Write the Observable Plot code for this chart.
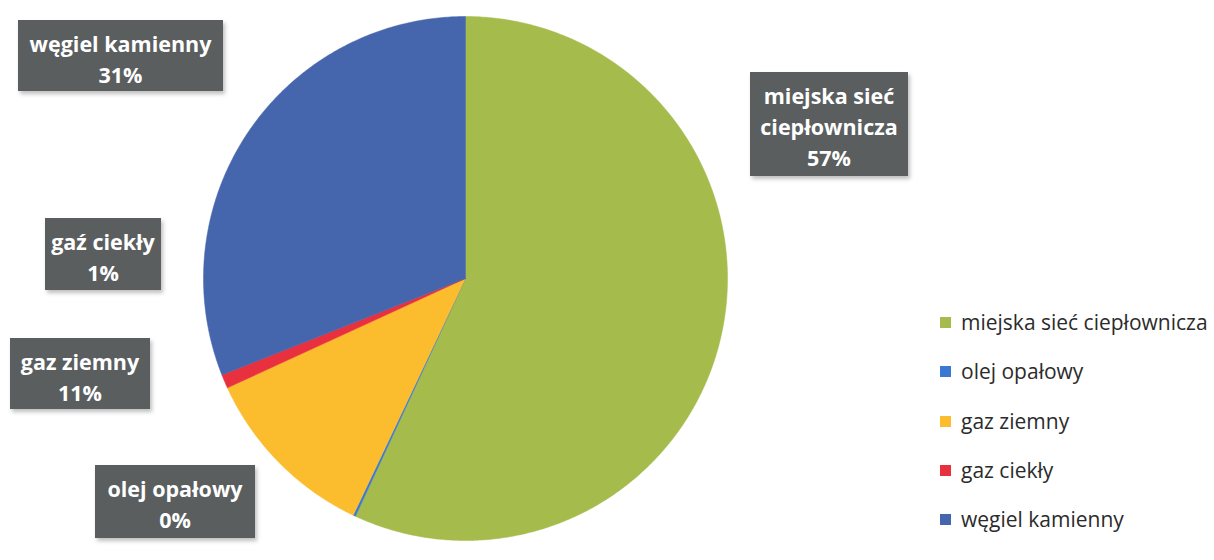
<!DOCTYPE html>
<html>
<head>
<meta charset="utf-8">
<script src="https://cdn.jsdelivr.net/npm/d3@7"></script>
<script src="https://cdn.jsdelivr.net/npm/@observablehq/plot@0.6"></script>
<style>
  html, body { margin: 0; padding: 0; background: #ffffff; }
  #wrap { position: relative; width: 1214px; height: 560px; overflow: hidden; }
  .lbl { position: absolute; background: #5a5e5f; color: #ffffff; font-family: "Open Sans", Lato, sans-serif; font-weight: 700; font-size: 21.5px; line-height: 31px; text-align: center; box-shadow: 2px 3px 4px rgba(0,0,0,0.25); box-sizing: border-box; padding-top: 8px; white-space: pre; }
  .leg { position: absolute; font-family: "Open Sans", Lato, sans-serif; font-size: 21px; color: #2b2b2b; white-space: nowrap; line-height: 28px; }
  .leg span.sw { display: inline-block; width: 11px; height: 11px; margin-right: 10px; vertical-align: 2px; }
</style>
</head>
<body>
<div id="wrap"></div>
<script>
// ---- data ----
const categories = ["miejska sieć ciepłownicza", "olej opałowy", "gaz ziemny", "gaz ciekły", "węgiel kamienny"];
const values = [56.9, 0.15, 11.1, 0.85, 31.0];
const pctLabels = ["57%", "0%", "11%", "1%", "31%"];
const sliceLabels = ["miejska sieć\nciepłownicza", "olej opałowy", "gaz ziemny", "gaź ciekły", "węgiel kamienny"];
const colors = ["#a5bb4b", "#3b78d4", "#fbbc2e", "#e8303e", "#4565ad"];

// ---- layout (positions of label boxes, px) ----
const labelBoxes = [
  {left: 750, top: 72, width: 158, height: 104},
  {left: 95, top: 465, width: 160, height: 73},
  {left: 10, top: 338, width: 140, height: 71},
  {left: 45, top: 218, width: 116, height: 72},
  {left: 18, top: 20, width: 205, height: 71}
];

// ---- pie geometry built from the values ----
const total = d3.sum(values);
const rows = [];
let cum = 0;
values.forEach((v, i) => {
  const a0 = cum / total * 2 * Math.PI;
  cum += v;
  const a1 = cum / total * 2 * Math.PI;
  const n = Math.max(2, Math.ceil((a1 - a0) / (Math.PI / 360)));
  rows.push({name: categories[i], x: 0, y: 0});
  for (let k = 0; k <= n; k++) {
    const a = a0 + (a1 - a0) * k / n;
    rows.push({name: categories[i], x: Math.sin(a), y: Math.cos(a)});
  }
  rows.push({name: categories[i], x: 0, y: 0});
});

const W = 1214, H = 560, cx = 465, cy = 278, R = 262;
const chart = Plot.plot({
  width: W,
  height: H,
  margin: 0,
  x: {domain: [-cx / R, (W - cx) / R], axis: null},
  y: {domain: [-(H - cy) / R, cy / R], axis: null},
  color: {domain: categories, range: colors},
  marks: [
    Plot.line(rows, {x: "x", y: "y", z: "name", fill: "name", stroke: "name", strokeWidth: 0.5, curve: "linear-closed"})
  ]
});
chart.style.position = "absolute";
chart.style.left = "0px";
chart.style.top = "0px";
const wrap = document.getElementById("wrap");
wrap.appendChild(chart);

// labels
categories.forEach((c, i) => {
  const b = labelBoxes[i];
  const d = document.createElement("div");
  d.className = "lbl";
  d.style.left = b.left + "px";
  d.style.top = b.top + "px";
  d.style.width = b.width + "px";
  d.style.height = b.height + "px";
  d.textContent = sliceLabels[i] + "\n" + pctLabels[i];
  wrap.appendChild(d);
});

// legend
categories.forEach((c, i) => {
  const d = document.createElement("div");
  d.className = "leg";
  d.style.left = "940px";
  d.style.top = (308 + i * 49.3) + "px";
  const sw = document.createElement("span");
  sw.className = "sw";
  sw.style.background = colors[i];
  d.appendChild(sw);
  d.appendChild(document.createTextNode(c));
  wrap.appendChild(d);
});
</script>
</body>
</html>
